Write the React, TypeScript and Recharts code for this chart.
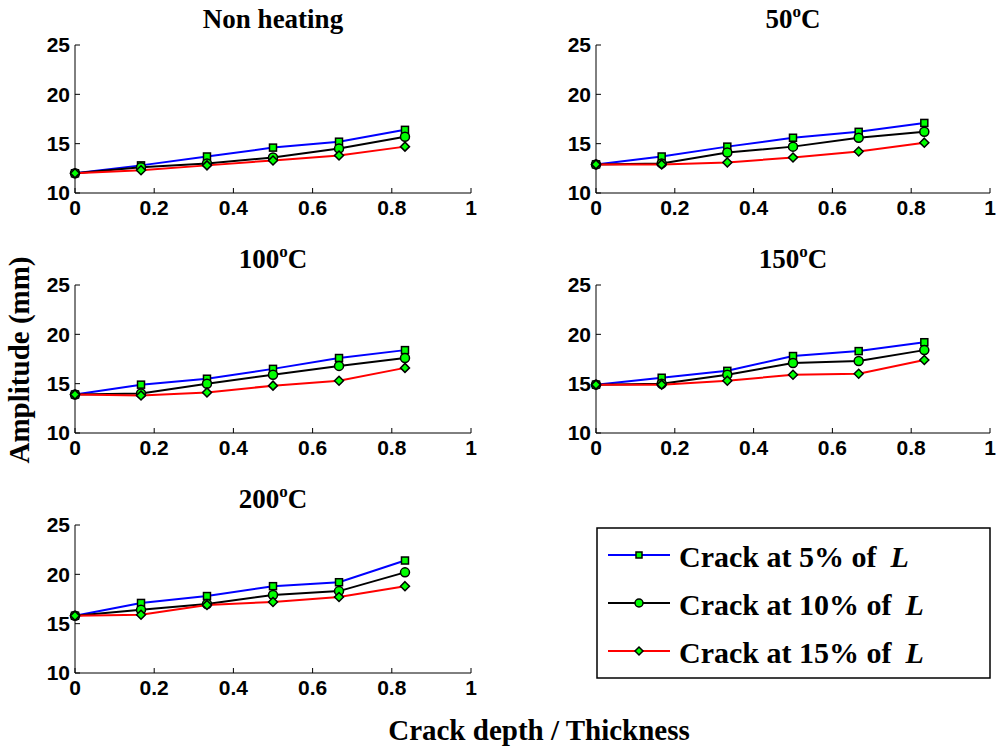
import React from "react";
import { LineChart, Line, XAxis, YAxis } from "recharts";

const depth = [0, 0.1667, 0.3333, 0.5, 0.6667, 0.8333];
const xTicks = [0, 0.2, 0.4, 0.6, 0.8, 1];
const yTicks = [10, 15, 20, 25];

const seriesNames = ["Crack at 5% of", "Crack at 10% of", "Crack at 15% of"];

const nonHeating5 = [12.0, 12.8, 13.7, 14.6, 15.2, 16.4];
const nonHeating10 = [12.0, 12.6, 13.0, 13.6, 14.5, 15.7];
const nonHeating15 = [12.0, 12.3, 12.8, 13.3, 13.8, 14.7];

const t50crack5 = [12.9, 13.7, 14.7, 15.6, 16.2, 17.1];
const t50crack10 = [12.9, 13.0, 14.1, 14.7, 15.6, 16.2];
const t50crack15 = [12.9, 12.9, 13.1, 13.6, 14.2, 15.1];

const t100crack5 = [13.9, 14.9, 15.5, 16.5, 17.6, 18.4];
const t100crack10 = [13.9, 14.0, 15.0, 15.9, 16.8, 17.6];
const t100crack15 = [13.9, 13.8, 14.1, 14.8, 15.3, 16.6];

const t150crack5 = [14.9, 15.6, 16.3, 17.8, 18.3, 19.2];
const t150crack10 = [14.9, 15.0, 15.9, 17.1, 17.3, 18.4];
const t150crack15 = [14.9, 14.9, 15.3, 15.9, 16.0, 17.4];

const t200crack5 = [15.8, 17.1, 17.8, 18.8, 19.2, 21.4];
const t200crack10 = [15.8, 16.4, 17.0, 17.9, 18.3, 20.2];
const t200crack15 = [15.8, 15.9, 16.9, 17.2, 17.7, 18.8];

const GREEN = "#00ff00";
const SERIF = "'Liberation Serif', 'Times New Roman', serif";
const SANS = "'Liberation Sans', Arial, sans-serif";

const toRows = (a: number[], b: number[], c: number[]) =>
  depth.map((d, i) => ({ depth: d, s5: a[i], s10: b[i], s15: c[i] }));

const squareDot = (p: any) => (
  <rect
    key={`sq-${p.index}`}
    x={p.cx - 3.5}
    y={p.cy - 3.5}
    width={7}
    height={7}
    fill={GREEN}
    stroke="#000"
    strokeWidth={1.5}
  />
);

const circleDot = (p: any) => (
  <circle key={`ci-${p.index}`} cx={p.cx} cy={p.cy} r={4.5} fill={GREEN} stroke="#000" strokeWidth={1.5} />
);

const diamondDot = (p: any) => (
  <polygon
    key={`di-${p.index}`}
    points={`${p.cx},${p.cy - 4.5} ${p.cx + 4.5},${p.cy} ${p.cx},${p.cy + 4.5} ${p.cx - 4.5},${p.cy}`}
    fill={GREEN}
    stroke="#000"
    strokeWidth={1.5}
  />
);

const tickStyle = { fill: "#000", fontSize: 21, fontWeight: "bold", fontFamily: SANS };

interface PanelProps {
  left: number;
  top: number;
  width: number;
  ml: number;
  mr: number;
  data: { depth: number; s5: number; s10: number; s15: number }[];
}

function Panel({ left, top, width, ml, mr, data }: PanelProps) {
  return (
    <div style={{ position: "absolute", left, top }}>
      <LineChart width={width} height={225} data={data} margin={{ top: 45, right: mr, left: ml, bottom: 2 }}>
        <XAxis
          dataKey="depth"
          type="number"
          domain={[0, 1]}
          ticks={xTicks}
          height={30}
          tick={tickStyle}
          tickSize={-5}
          tickMargin={12}
          axisLine={{ stroke: "#000" }}
          tickLine={{ stroke: "#000" }}
        />
        <XAxis
          xAxisId="top"
          orientation="top"
          dataKey="depth"
          type="number"
          domain={[0, 1]}
          ticks={xTicks}
          height={0}
          tick={false}
          tickSize={-5}
          axisLine={{ stroke: "#000" }}
          tickLine={{ stroke: "#000" }}
        />
        <YAxis
          type="number"
          domain={[10, 25]}
          ticks={yTicks}
          width={60}
          tick={tickStyle}
          tickSize={-5}
          tickMargin={10}
          axisLine={{ stroke: "#000" }}
          tickLine={{ stroke: "#000" }}
        />
        <YAxis
          yAxisId="right"
          orientation="right"
          type="number"
          domain={[10, 25]}
          ticks={yTicks}
          width={0}
          tick={false}
          tickSize={-5}
          axisLine={{ stroke: "#000" }}
          tickLine={{ stroke: "#000" }}
        />
        <Line dataKey="s5" stroke="#0000ff" strokeWidth={2} dot={squareDot} isAnimationActive={false} />
        <Line dataKey="s10" stroke="#000" strokeWidth={2} dot={circleDot} isAnimationActive={false} />
        <Line dataKey="s15" stroke="#ff0000" strokeWidth={2} dot={diamondDot} isAnimationActive={false} />
      </LineChart>
    </div>
  );
}

function Title({ x, y, main, sup }: { x: number; y: number; main: string; sup?: boolean }) {
  return (
    <text x={x} y={y} textAnchor="middle" fontFamily={SERIF} fontWeight="bold" fontSize={27} fill="#000">
      {sup ? (
        <>
          {main}
          <tspan fontSize={17} dy={-11}>o</tspan>
          <tspan dy={11}>C</tspan>
        </>
      ) : (
        main
      )}
    </text>
  );
}

const legendRows = [555, 603, 651];
const legendColors = ["#0000ff", "#000", "#ff0000"];

export default function App() {
  return (
    <div style={{ position: "absolute", left: 0, top: 0, width: 997, height: 756, background: "#fff" }}>
      <Panel left={0} top={0} width={480} ml={15} mr={9} data={toRows(nonHeating5, nonHeating10, nonHeating15)} />
      <Panel left={520} top={0} width={477} ml={16} mr={7} data={toRows(t50crack5, t50crack10, t50crack15)} />
      <Panel left={0} top={240} width={480} ml={15} mr={9} data={toRows(t100crack5, t100crack10, t100crack15)} />
      <Panel left={520} top={240} width={477} ml={16} mr={7} data={toRows(t150crack5, t150crack10, t150crack15)} />
      <Panel left={0} top={480} width={480} ml={15} mr={9} data={toRows(t200crack5, t200crack10, t200crack15)} />

      <svg
        width={997}
        height={756}
        style={{ position: "absolute", left: 0, top: 0, pointerEvents: "none" }}
      >
        <Title x={273} y={28} main="Non heating" />
        <Title x={793} y={28} main="50" sup />
        <Title x={273} y={268} main="100" sup />
        <Title x={793} y={268} main="150" sup />
        <Title x={273} y={508} main="200" sup />

        <text
          x={539}
          y={740}
          textAnchor="middle"
          fontFamily={SERIF}
          fontWeight="bold"
          fontSize={29}
          fill="#000"
        >
          Crack depth / Thickness
        </text>
        <text
          transform="translate(29,360) rotate(-90)"
          textAnchor="middle"
          fontFamily={SERIF}
          fontWeight="bold"
          fontSize={29}
          fill="#000"
        >
          Amplitude (mm)
        </text>

        <rect x={597} y={528} width={393} height={150} fill="#fff" stroke="#000" strokeWidth={1.5} />
        {legendRows.map((y, i) => (
          <g key={seriesNames[i]}>
            <line x1={608} x2={670} y1={y} y2={y} stroke={legendColors[i]} strokeWidth={2} />
            {i === 0 && <rect x={636} y={y - 3} width={6} height={6} fill={GREEN} stroke="#000" strokeWidth={1.5} />}
            {i === 1 && <circle cx={639} cy={y} r={4} fill={GREEN} stroke="#000" strokeWidth={1.5} />}
            {i === 2 && (
              <polygon
                points={`639,${y - 4} 643,${y} 639,${y + 4} 635,${y}`}
                fill={GREEN}
                stroke="#000"
                strokeWidth={1.5}
              />
            )}
            <text x={679} y={y + 12} fontFamily={SERIF} fontWeight="bold" fontSize={30} fill="#000">
              {seriesNames[i]}
              <tspan dx={14} fontStyle="italic">L</tspan>
            </text>
          </g>
        ))}
      </svg>
    </div>
  );
}
